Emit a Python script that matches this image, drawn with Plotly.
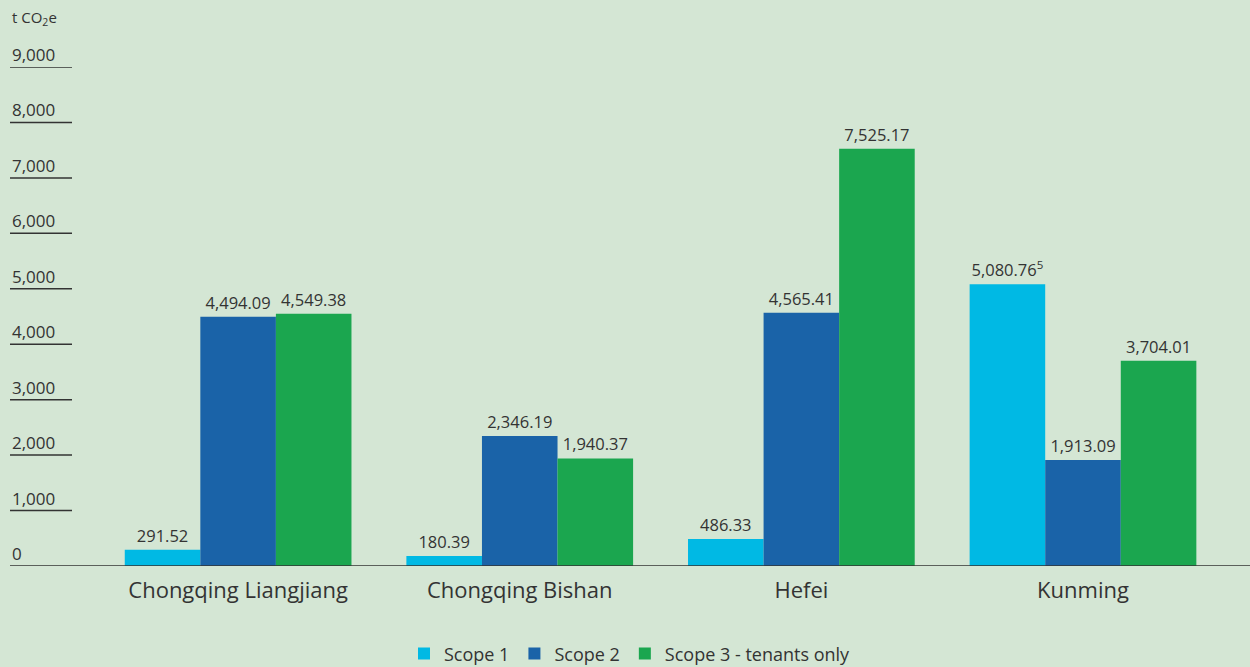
import plotly.graph_objects as go

categories = ["Chongqing Liangjiang", "Chongqing Bishan", "Hefei", "Kunming"]
scope1 = [291.52, 180.39, 486.33, 5080.76]
scope2 = [4494.09, 2346.19, 4565.41, 1913.09]
scope3 = [4549.38, 1940.37, 7525.17, 3704.01]
scope1_labels = ["291.52", "180.39", "486.33", "5,080.76<sup>5</sup>"]
scope2_labels = ["4,494.09", "2,346.19", "4,565.41", "1,913.09"]
scope3_labels = ["4,549.38", "1,940.37", "7,525.17", "3,704.01"]
y_ticks = [0, 1000, 2000, 3000, 4000, 5000, 6000, 7000, 8000, 9000]
y_tick_labels = ["0", "1,000", "2,000", "3,000", "4,000", "5,000", "6,000", "7,000", "8,000", "9,000"]

FONT = "Open Sans"
TXT = "#333333"
BG = "#D4E6D4"

fig = go.Figure()
for name, vals, labels, color in [
    ("Scope 1", scope1, scope1_labels, "#00B9E4"),
    ("Scope 2", scope2, scope2_labels, "#1A63A8"),
    ("Scope 3 - tenants only", scope3, scope3_labels, "#1BA64F"),
]:
    fig.add_trace(go.Bar(
        x=categories, y=vals, name=name, marker=dict(color=color, line=dict(width=0)),
        text=labels, texttemplate="%{text}", textposition="outside", cliponaxis=False,
        textfont=dict(family=FONT, size=16.5, color=TXT),
    ))

shapes = []
annotations = []
for v, lab in zip(y_ticks, y_tick_labels):
    if v > 0:
        shapes.append(dict(type="line", xref="paper", yref="y", x0=0, x1=0.05, y0=v, y1=v,
                           line=dict(color=TXT, width=1.5)))
    annotations.append(dict(xref="paper", yref="y", x=0, y=v, text=lab, showarrow=False,
                            xanchor="left", yanchor="bottom", yshift=-1,
                            font=dict(family=FONT, size=17, color=TXT)))
shapes.append(dict(type="line", xref="paper", yref="y", x0=0, x1=1, y0=0, y1=0,
                   line=dict(color=TXT, width=1.5)))
annotations.append(dict(xref="paper", yref="paper", x=0, y=1, yshift=36, text="t CO<sub>2</sub>e",
                        showarrow=False, xanchor="left", yanchor="bottom",
                        font=dict(family=FONT, size=15, color=TXT)))

fig.update_layout(
    width=1250, height=667,
    margin=dict(l=10, r=0, t=67, b=101, autoexpand=False),
    paper_bgcolor=BG, plot_bgcolor=BG,
    barmode="group", bargap=0.195, bargroupgap=0,
    xaxis=dict(range=[-0.81, 3.593], showgrid=False, zeroline=False, showline=False,
               ticks="", ticklabelstandoff=9, tickfont=dict(family=FONT, size=22, color=TXT)),
    yaxis=dict(range=[0, 9000], showgrid=False, zeroline=False, showline=False,
               showticklabels=False, ticks=""),
    legend=dict(orientation="h", x=0.5, xanchor="center", yref="paper", y=-0.176, yanchor="middle",
                font=dict(family=FONT, size=18, color=TXT), itemsizing="constant",
                bgcolor="rgba(0,0,0,0)"),
    shapes=shapes, annotations=annotations,
    font=dict(family=FONT, color=TXT),
)

fig.write_html("out.html")
